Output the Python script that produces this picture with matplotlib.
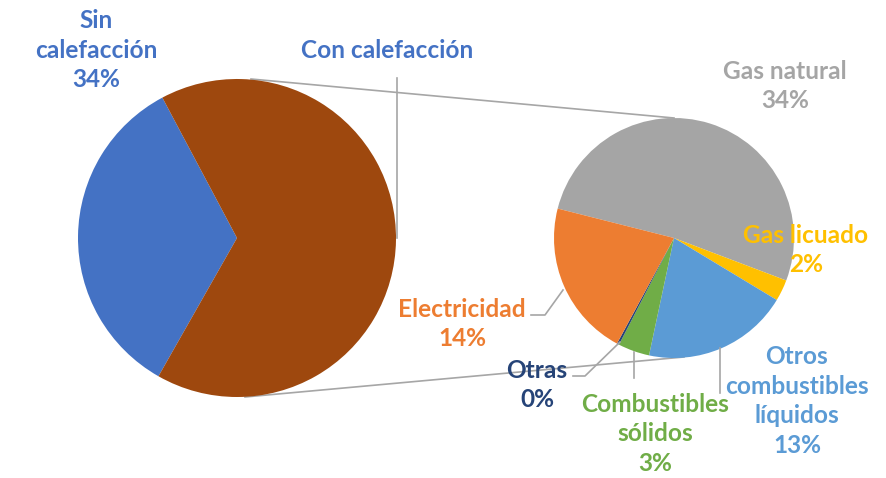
import matplotlib
matplotlib.use("Agg")
import matplotlib.pyplot as plt

# ---- data ----
main_labels = ["Sin\ncalefacción", "Con calefacción"]
main_values = [34.0, 66.0]
main_colors = ["#4472C4", "#9E480E"]

sub_labels = ["Gas natural", "Gas licuado", "Otros\ncombustibles\nlíquidos",
              "Combustibles\nsólidos", "Otras", "Electricidad"]
sub_values = [34.2, 1.9, 13.0, 2.8, 0.2, 13.9]
sub_colors = ["#A5A5A5", "#FFC000", "#5B9BD5", "#70AD47", "#264478", "#ED7D31"]

W, H = 887, 478
plt.rcParams['font.family'] = ['Lato', 'DejaVu Sans']

fig = plt.figure(figsize=(W / 100, H / 100), dpi=100)
ax = fig.add_axes([0, 0, 1, 1])

def py(y):  # pixel-from-top -> data y
    return H - y

# main pie
c1 = (237, py(238)); r1 = 159
ax.pie(main_values, colors=main_colors, startangle=118, counterclock=True,
       center=c1, radius=r1, wedgeprops=dict(linewidth=0), frame=True)

# second pie
c2 = (674, py(238)); r2 = 120
ax.pie(sub_values, colors=sub_colors, startangle=165.8, counterclock=False,
       center=c2, radius=r2, wedgeprops=dict(linewidth=0), frame=True)

# connector lines
lc = "#A6A6A6"
ax.plot([c1[0] + 14, c2[0]], [c1[1] + r1, c2[1] + r2], color=lc, lw=1.2, zorder=0)
ax.plot([c1[0] + 8, c2[0] + 10], [c1[1] - r1, c2[1] - r2 + 1], color=lc, lw=1.2, zorder=0)

fs = 17.6
def lab(x, y, s, color):
    ax.text(x, py(y), s, color=color, fontsize=fs, fontweight='bold',
            ha='center', va='center', linespacing=1.36)

tot = sum(main_values)
lab(96, 50, f"{main_labels[0]}\n{main_values[0]/tot*100:.0f}%", main_colors[0])
lab(387, 50, main_labels[1], main_colors[0])
ax.plot([397, 397], [py(78), py(238)], color=lc, lw=1.2)

sub_pos = [(785, 86), (806, 250), (797, 401), (655, 434), (537, 385), (462, 324)]
for (x, y), name, v, col in zip(sub_pos, sub_labels, sub_values, sub_colors):
    lab(x, y, f"{name}\n{v/tot*100:.0f}%", col)

# leader lines
ax.plot([720, 720], [py(348), py(393)], color=lc, lw=1.2)
ax.plot([634, 634], [py(352), py(378)], color=lc, lw=1.2)
ax.plot([620, 585, 573], [py(342), py(376), py(376)], color=lc, lw=1.2)
ax.plot([563, 545, 531], [py(290), py(315), py(315)], color=lc, lw=1.2)

ax.set_xlim(0, W)
ax.set_ylim(0, H)
ax.set_aspect('equal')
ax.axis('off')

fig.savefig("out.png", dpi=100, facecolor='white')
